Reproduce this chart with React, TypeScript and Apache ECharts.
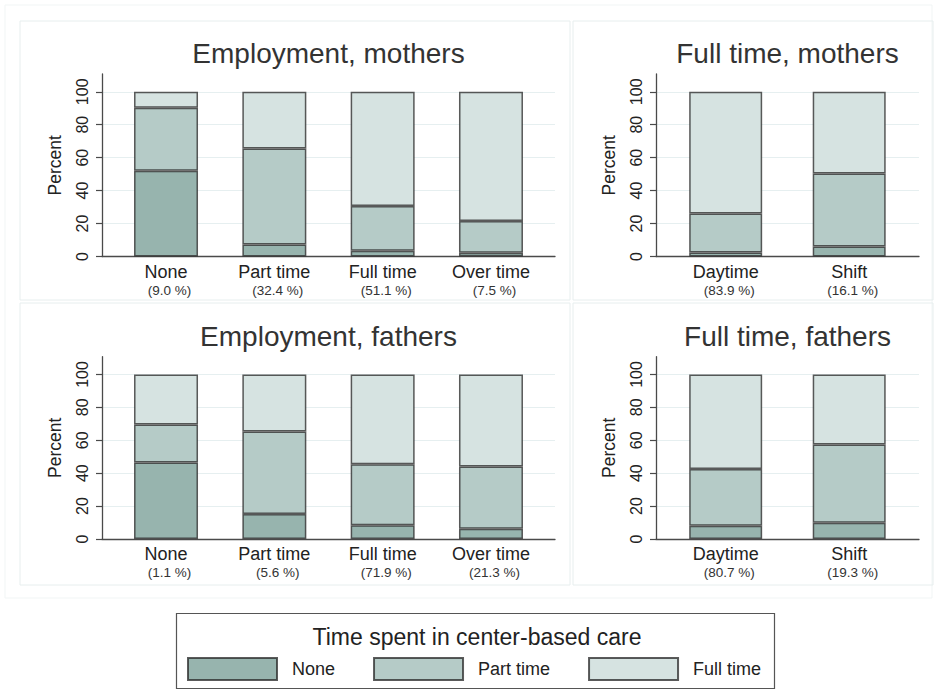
import React, { useEffect, useRef } from "react";
import * as echarts from "echarts";

// ---------- data ----------
const panelTitles = ["Employment, mothers", "Full time, mothers", "Employment, fathers", "Full time, fathers"];
const employmentCategories = ["None", "Part time", "Full time", "Over time"];
const shiftCategories = ["Daytime", "Shift"];
const careLevels = ["None", "Part time", "Full time"];
const legendTitle = "Time spent in center-based care";
const yAxisName = "Percent";
const yTickValues = [0, 20, 40, 60, 80, 100];

// share of children in each employment group (shown under the category labels)
const empMothersShares = ["9.0 %", "32.4 %", "51.1 %", "7.5 %"];
const ftMothersShares = ["83.9 %", "16.1 %"];
const empFathersShares = ["1.1 %", "5.6 %", "71.9 %", "21.3 %"];
const ftFathersShares = ["80.7 %", "19.3 %"];

// percent of children per time spent in center-based care (None / Part time / Full time)
const empMothersNone = [52.1, 7.3, 3.5, 2.3];
const empMothersPart = [38.2, 58.3, 27.1, 19.2];
const empMothersFull = [9.7, 34.4, 69.4, 78.5];

const ftMothersNone = [2.5, 6.1];
const ftMothersPart = [23.6, 44.3];
const ftMothersFull = [73.9, 49.6];

const empFathersNone = [46.5, 15.2, 8.3, 6.3];
const empFathersPart = [23.1, 50.1, 37.1, 37.7];
const empFathersFull = [30.4, 34.7, 54.6, 56.0];

const ftFathersNone = [8.1, 9.9];
const ftFathersPart = [34.5, 47.5];
const ftFathersFull = [57.4, 42.6];

// ---------- styles ----------
const FONT = "'Liberation Sans', Arial, Helvetica, sans-serif";
const fillColors = ["#97b4ae", "#b5cbc7", "#d6e3e1"];
const barBorder = "rgba(45,45,45,0.78)";
const axisColor = "#4a4a4a";
const gridColor = "#e6eff0";
const frameColor = "#e7eeee";

type Panel = {
  title: string;
  cats: string[];
  shares: string[];
  values: number[][];
  grid: { left: number; top: number; width: number; height: number };
  xMin: number;
  xMax: number;
  barWidth: number;
  titleY: number;
};

const panels: Panel[] = [
  {
    title: panelTitles[0], cats: employmentCategories, shares: empMothersShares,
    values: [empMothersNone, empMothersPart, empMothersFull],
    grid: { left: 102, top: 74, width: 453, height: 182.5 },
    xMin: -0.591, xMax: 3.591, barWidth: 64, titleY: 53.8,
  },
  {
    title: panelTitles[1], cats: shiftCategories, shares: ftMothersShares,
    values: [ftMothersNone, ftMothersPart, ftMothersFull],
    grid: { left: 656, top: 74, width: 263, height: 182.5 },
    xMin: -0.564, xMax: 1.565, barWidth: 73, titleY: 53.8,
  },
  {
    title: panelTitles[2], cats: employmentCategories, shares: empFathersShares,
    values: [empFathersNone, empFathersPart, empFathersFull],
    grid: { left: 102, top: 356.7, width: 453, height: 182.3 },
    xMin: -0.591, xMax: 3.591, barWidth: 64, titleY: 336.5,
  },
  {
    title: panelTitles[3], cats: shiftCategories, shares: ftFathersShares,
    values: [ftFathersNone, ftFathersPart, ftFathersFull],
    grid: { left: 656, top: 356.7, width: 263, height: 182.3 },
    xMin: -0.564, xMax: 1.565, barWidth: 73, titleY: 336.5,
  },
];

function buildOption(): any {
  const grids = panels.map((p) => ({ ...p.grid, containLabel: false }));

  const titles = panels.map((p) => ({
    text: p.title,
    left: p.grid.left + p.grid.width / 2,
    top: p.titleY - 14,
    textAlign: "center",
    padding: 0,
    textStyle: { fontFamily: FONT, fontSize: 28, fontWeight: "normal", color: "#333" },
  }));

  const xAxes = panels.map((p, i) => ({
    type: "value",
    gridIndex: i,
    min: p.xMin,
    max: p.xMax,
    axisLine: { show: true, onZero: false, lineStyle: { color: axisColor, width: 1.3 } },
    axisTick: { show: false },
    splitLine: { show: false },
    axisLabel: {
      customValues: p.cats.map((_, k) => k),
      margin: 5,
      formatter: (v: number) => {
        const k = Math.round(v);
        return `{a|${p.cats[k]}}\n{b|(${p.shares[k]})}`;
      },
      rich: {
        a: { fontFamily: FONT, fontSize: 18, lineHeight: 20, color: "#222" },
        b: { fontFamily: FONT, fontSize: 13.5, lineHeight: 17, color: "#333", padding: [0, 0, 0, 7] },
      },
    },
  }));

  const yAxes = panels.map((p, i) => ({
    type: "value",
    gridIndex: i,
    min: 0,
    max: 110.8,
    name: yAxisName,
    nameLocation: "middle",
    nameGap: 38,
    nameRotate: 90,
    nameTextStyle: { fontFamily: FONT, fontSize: 17.5, color: "#222" },
    axisLine: { show: true, onZero: false, lineStyle: { color: axisColor, width: 1.3 } },
    axisTick: { show: true, length: 6, customValues: yTickValues, lineStyle: { color: axisColor, width: 1.2 } },
    axisLabel: {
      customValues: yTickValues,
      rotate: 90,
      margin: 12,
      fontFamily: FONT,
      fontSize: 16,
      color: "#222",
    },
    splitLine: { show: true, lineStyle: { color: gridColor, width: 1 } },
  }));

  const series: any[] = [];
  panels.forEach((p, i) => {
    careLevels.forEach((level, k) => {
      series.push({
        type: "bar",
        name: level,
        xAxisIndex: i,
        yAxisIndex: i,
        stack: "panel" + i,
        barWidth: p.barWidth,
        // column 0 = percent (y, stacked), column 1 = category position (x)
        data: p.values[k].map((v, c) => [v, c]),
        encode: { x: 1, y: 0 },
        itemStyle: { color: fillColors[k], borderColor: barBorder, borderWidth: 1.5 },
        emphasis: { disabled: true },
      });
    });
  });

  const frames = [
    { x: 5, y: 5, width: 927, height: 593, color: "#f1f5f5" },
    { x: 20, y: 21, width: 550, height: 279, color: frameColor },
    { x: 573, y: 21, width: 360, height: 279, color: frameColor },
    { x: 20, y: 303, width: 550, height: 282, color: frameColor },
    { x: 573, y: 303, width: 360, height: 282, color: frameColor },
  ];

  const graphic: any[] = frames.map((f) => ({
    type: "rect",
    silent: true,
    z: -10,
    shape: { x: f.x, y: f.y, width: f.width, height: f.height },
    style: { fill: "none", stroke: f.color, lineWidth: 1 },
  }));
  graphic.push({
    type: "rect",
    silent: true,
    shape: { x: 176.5, y: 613.5, width: 598, height: 75 },
    style: { fill: "#fff", stroke: "#555", lineWidth: 1.2 },
    z: -5,
  });
  graphic.push({
    type: "text",
    silent: true,
    x: 477,
    y: 636.5,
    style: {
      text: legendTitle,
      fontFamily: FONT,
      fontSize: 23,
      fill: "#222",
      textAlign: "center",
      textVerticalAlign: "middle",
    },
  });

  return {
    animation: false,
    backgroundColor: "#fff",
    title: titles,
    grid: grids,
    xAxis: xAxes,
    yAxis: yAxes,
    legend: {
      data: careLevels,
      left: 187,
      top: 657,
      padding: 0,
      itemWidth: 89,
      itemHeight: 22,
      itemGap: 38,
      icon: "rect",
      selectedMode: false,
      textStyle: { fontFamily: FONT, fontSize: 18, color: "#222", padding: [0, 0, 0, 10] },
    },
    tooltip: { show: false },
    graphic,
    series,
  };
}

export default function App() {
  const ref = useRef<HTMLDivElement>(null);
  useEffect(() => {
    document.body.style.margin = "0";
    if (!ref.current) return;
    const chart = echarts.init(ref.current, undefined, { renderer: "svg" });
    chart.setOption(buildOption());
    return () => chart.dispose();
  }, []);
  return <div ref={ref} style={{ width: 937, height: 690, background: "#fff" }} />;
}
